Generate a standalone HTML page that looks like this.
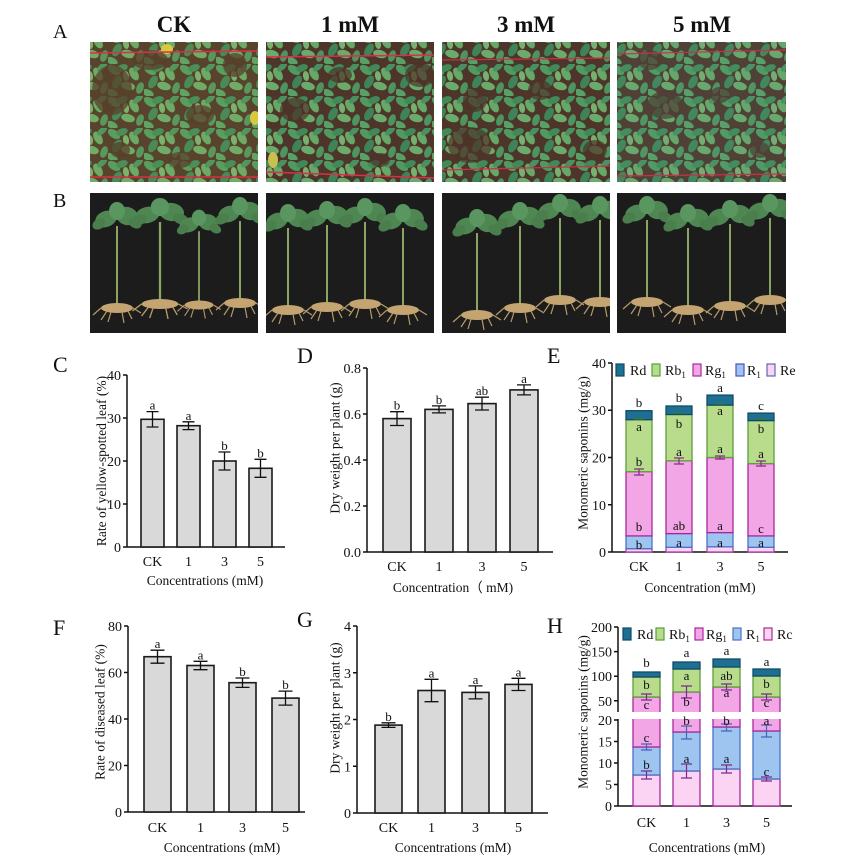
<!DOCTYPE html>
<html><head><meta charset="utf-8"><style>
html,body{margin:0;padding:0;background:#fff}
svg{display:block}
text{font-family:"Liberation Serif",serif;fill:#111}
.t{font-size:14px}
.l{font-size:13px}
.al{font-size:13.5px}
.pl{font-size:22px}
.tt{font-size:23px;font-weight:bold}
.ax{stroke:#111;stroke-width:1.5;fill:none}
.bar{fill:#d9d9d9;stroke:#1a1a1a;stroke-width:1.6}
.er{stroke:#111;stroke-width:1.3;fill:none}
</style></head><body>
<svg width="864" height="864" viewBox="0 0 864 864" xmlns="http://www.w3.org/2000/svg">
<defs>
<pattern id="leafy" width="36" height="32" patternUnits="userSpaceOnUse">
 <rect width="36" height="32" fill="#4e3529"/>
 <ellipse cx="6" cy="6" rx="7" ry="4" fill="#4f9a60" transform="rotate(35 6 6)"/>
 <ellipse cx="14" cy="4" rx="6" ry="3.5" fill="#3f8a58" transform="rotate(-20 14 4)"/>
 <ellipse cx="26" cy="10" rx="7" ry="4" fill="#66a868" transform="rotate(60 26 10)"/>
 <ellipse cx="30" cy="3" rx="6" ry="3" fill="#4a9060" transform="rotate(-40 30 3)"/>
 <ellipse cx="9" cy="18" rx="7" ry="4" fill="#3f8458" transform="rotate(-60 9 18)"/>
 <ellipse cx="20" cy="22" rx="7" ry="4" fill="#6aaa6a" transform="rotate(15 20 22)"/>
 <ellipse cx="32" cy="24" rx="6" ry="3.5" fill="#4e9460" transform="rotate(-70 32 24)"/>
 <ellipse cx="4" cy="29" rx="6" ry="3.5" fill="#58a065" transform="rotate(25 4 29)"/>
 <ellipse cx="18" cy="12" rx="5" ry="3" fill="#78b070" transform="rotate(80 18 12)"/>
</pattern>
<g id="pl">
 <g fill="#4e8752">
  <ellipse cx="-11" cy="1" rx="11" ry="8" transform="rotate(-20 -11 1)"/>
  <ellipse cx="10" cy="-2" rx="11" ry="9" transform="rotate(15 10 -2)"/>
  <ellipse cx="0" cy="-7" rx="8" ry="9" fill="#5a9660"/>
  <ellipse cx="-18" cy="6" rx="7" ry="5" transform="rotate(-30 -18 6)" fill="#4a7e4c"/>
  <ellipse cx="18" cy="5" rx="7" ry="5" transform="rotate(30 18 5)" fill="#4a7e4c"/>
 </g>
 <line x1="0" y1="8" x2="0" y2="86" stroke="#8aa462" stroke-width="2"/>
 <ellipse cx="0" cy="90" rx="16" ry="5" fill="#c4a572"/>
 <path d="M-16 90 l-8 7 M16 90 l8 5 M-6 94 l-3 10 M5 94 l2 11 M-10 93 l-6 9 M11 93 l4 8" stroke="#b89a66" stroke-width="1.2" fill="none"/>
</g>
<clipPath id="hu"><rect x="600" y="600" width="220" height="112"/></clipPath>
<clipPath id="hl"><rect x="600" y="719" width="220" height="100"/></clipPath>
<clipPath id="a1"><rect x="90" y="42" width="168" height="140"/></clipPath>
<clipPath id="a2"><rect x="266" y="42" width="168" height="140"/></clipPath>
<clipPath id="a3"><rect x="442" y="42" width="168" height="140"/></clipPath>
<clipPath id="a4"><rect x="617" y="42" width="169" height="140"/></clipPath>
<clipPath id="b1"><rect x="90" y="193" width="168" height="140"/></clipPath>
<clipPath id="b2"><rect x="266" y="193" width="168" height="140"/></clipPath>
<clipPath id="b3"><rect x="442" y="193" width="168" height="140"/></clipPath>
<clipPath id="b4"><rect x="617" y="193" width="169" height="140"/></clipPath>
</defs>

<!-- Titles -->
<text class="pl" x="53" y="38" style="font-size:20px">A</text>
<text class="pl" x="53" y="207" style="font-size:20px">B</text>
<text class="tt" x="174" y="32" text-anchor="middle">CK</text>
<text class="tt" x="350" y="32" text-anchor="middle">1 mM</text>
<text class="tt" x="526" y="32" text-anchor="middle">3 mM</text>
<text class="tt" x="702" y="32" text-anchor="middle">5 mM</text>

<!-- A photos -->
<g clip-path="url(#a1)">
 <rect x="90" y="42" width="168" height="140" fill="url(#leafy)"/>
 <g fill="#4e3328" opacity="0.75">
  <ellipse cx="112" cy="90" rx="20" ry="25"/><ellipse cx="150" cy="60" rx="18" ry="10"/>
  <ellipse cx="200" cy="115" rx="14" ry="10"/><ellipse cx="235" cy="65" rx="12" ry="12"/>
  <ellipse cx="120" cy="150" rx="10" ry="8"/><ellipse cx="180" cy="160" rx="12" ry="8"/>
 </g>
 <rect x="90" y="42" width="168" height="140" fill="#b0c050" opacity="0.1"/>
 <ellipse cx="167" cy="49" rx="6" ry="5" fill="#d8c840"/>
 <ellipse cx="255" cy="118" rx="5" ry="7" fill="#d8c840"/>
</g>
<g clip-path="url(#a2)">
 <rect x="266" y="42" width="168" height="140" fill="url(#leafy)"/>
 <g fill="#4e3328" opacity="0.7">
  <ellipse cx="295" cy="110" rx="15" ry="12"/><ellipse cx="340" cy="75" rx="12" ry="8"/>
  <ellipse cx="420" cy="75" rx="15" ry="12"/><ellipse cx="380" cy="160" rx="10" ry="7"/>
 </g>
 <ellipse cx="273" cy="160" rx="5" ry="8" fill="#c8c050"/>
</g>
<g clip-path="url(#a3)">
 <rect x="442" y="42" width="168" height="140" fill="url(#leafy)"/>
 <g fill="#4e3328" opacity="0.7">
  <ellipse cx="470" cy="145" rx="22" ry="18"/><ellipse cx="540" cy="90" rx="12" ry="10"/>
  <ellipse cx="475" cy="100" rx="12" ry="12"/><ellipse cx="595" cy="150" rx="12" ry="10"/>
 </g>
</g>
<g clip-path="url(#a4)">
 <rect x="617" y="42" width="169" height="140" fill="url(#leafy)"/>
 <g fill="#4e3328" opacity="0.7">
  <ellipse cx="665" cy="105" rx="18" ry="14"/><ellipse cx="650" cy="60" rx="12" ry="10"/>
  <ellipse cx="720" cy="95" rx="10" ry="8"/><ellipse cx="760" cy="150" rx="10" ry="8"/>
 </g>
 <rect x="617" y="42" width="169" height="140" fill="#5aa08a" opacity="0.12"/>
</g>
<line x1="90" y1="53" x2="258" y2="51" stroke="#d8304a" stroke-width="1.5"/>
<line x1="90" y1="177" x2="258" y2="177" stroke="#d8304a" stroke-width="1.5"/>
<line x1="266" y1="57" x2="434" y2="55" stroke="#d8304a" stroke-width="1.5"/>
<line x1="266" y1="172" x2="434" y2="178" stroke="#d8304a" stroke-width="1.5"/>
<line x1="442" y1="60" x2="610" y2="58" stroke="#c8304a" stroke-width="1.2"/>
<line x1="442" y1="170" x2="610" y2="166" stroke="#c8304a" stroke-width="1.2"/>
<line x1="617" y1="54" x2="786" y2="50" stroke="#c8304a" stroke-width="1.2"/>
<line x1="617" y1="176" x2="786" y2="174" stroke="#c8304a" stroke-width="1.2"/>

<!-- B photos -->
<g clip-path="url(#b1)">
 <rect x="90" y="193" width="168" height="140" fill="#1c1c1c"/>
 <use href="#pl" transform="translate(117,218)"/>
 <use href="#pl" transform="translate(160,214) scale(1.15,1)"/>
 <use href="#pl" transform="translate(199,224) scale(0.9)"/>
 <use href="#pl" transform="translate(240,213)"/>
</g>
<g clip-path="url(#b2)">
 <rect x="266" y="193" width="168" height="140" fill="#1c1c1c"/>
 <use href="#pl" transform="translate(288,220)"/>
 <use href="#pl" transform="translate(327,217)"/>
 <use href="#pl" transform="translate(365,214)"/>
 <use href="#pl" transform="translate(403,220)"/>
</g>
<g clip-path="url(#b3)">
 <rect x="442" y="193" width="168" height="140" fill="#1c1c1c"/>
 <use href="#pl" transform="translate(477,225)"/>
 <use href="#pl" transform="translate(520,218)"/>
 <use href="#pl" transform="translate(560,210)"/>
 <use href="#pl" transform="translate(600,212)"/>
</g>
<g clip-path="url(#b4)">
 <rect x="617" y="193" width="169" height="140" fill="#1c1c1c"/>
 <use href="#pl" transform="translate(647,212)"/>
 <use href="#pl" transform="translate(688,220)"/>
 <use href="#pl" transform="translate(730,216)"/>
 <use href="#pl" transform="translate(770,210)"/>
</g>

<!-- ================= Panel C ================= -->
<text class="pl" x="53" y="372">C</text>
<path class="ax" d="M127 375 V547 H285 M123 375 H127 M123 418 H127 M123 461 H127 M123 504 H127 M123 547 H127"/>
<g class="t" text-anchor="end">
<text x="121" y="380">40</text><text x="121" y="423">30</text><text x="121" y="466">20</text><text x="121" y="509">10</text><text x="121" y="552">0</text>
</g>
<rect class="bar" x="141" y="419.3" width="23" height="127.7"/>
<rect class="bar" x="177" y="425.7" width="23" height="121.3"/>
<rect class="bar" x="213" y="461" width="23" height="86"/>
<rect class="bar" x="249" y="468.3" width="23" height="78.7"/>
<path class="er" d="M152.5 411.6V427M146.5 411.6H158.5M146.5 427H158.5 M188.5 421.8V429.6M182.5 421.8H194.5M182.5 429.6H194.5 M224.5 452V470M218.5 452H230.5M218.5 470H230.5 M260.5 459.3V477.3M254.5 459.3H266.5M254.5 477.3H266.5"/>
<g class="l" text-anchor="middle">
<text x="152.5" y="409.6">a</text><text x="188.5" y="419.8">a</text><text x="224.5" y="450">b</text><text x="260.5" y="457.3">b</text>
</g>
<g class="t" text-anchor="middle">
<text x="152.5" y="566">CK</text><text x="188.5" y="566">1</text><text x="224.5" y="566">3</text><text x="260.5" y="566">5</text>
</g>
<text class="al" x="205" y="585" text-anchor="middle">Concentrations (mM)</text>
<text class="al" transform="translate(106,461) rotate(-90)" text-anchor="middle">Rate of yellow-spotted leaf (%)</text>

<!-- ================= Panel D ================= -->
<text class="pl" x="297" y="363">D</text>
<path class="ax" d="M367 368 V552 H553 M363 368 H367 M363 414 H367 M363 460 H367 M363 506 H367 M363 552 H367"/>
<g class="t" text-anchor="end">
<text x="361" y="373">0.8</text><text x="361" y="419">0.6</text><text x="361" y="465">0.4</text><text x="361" y="511">0.2</text><text x="361" y="557">0.0</text>
</g>
<rect class="bar" x="383" y="418.6" width="28" height="133.4"/>
<rect class="bar" x="425" y="409.4" width="28" height="142.6"/>
<rect class="bar" x="468" y="403.6" width="28" height="148.4"/>
<rect class="bar" x="510" y="389.9" width="28" height="162.1"/>
<path class="er" d="M397 411.7V425.5M390 411.7H404M390 425.5H404 M439 405.9V412.9M432 405.9H446M432 412.9H446 M482 397.2V410M475 397.2H489M475 410H489 M524 384.9V394.9M517 384.9H531M517 394.9H531"/>
<g class="l" text-anchor="middle">
<text x="397" y="409.7">b</text><text x="439" y="403.9">b</text><text x="482" y="395.2">ab</text><text x="524" y="382.9">a</text>
</g>
<g class="t" text-anchor="middle">
<text x="397" y="571">CK</text><text x="439" y="571">1</text><text x="482" y="571">3</text><text x="524" y="571">5</text>
</g>
<text class="al" x="453" y="592" text-anchor="middle">Concentration（ mM)</text>
<text class="al" transform="translate(339.5,448) rotate(-90)" text-anchor="middle">Dry weight per plant (g)</text>

<!-- ================= Panel E ================= -->
<text class="pl" x="547" y="363">E</text>
<path class="ax" d="M612 363 V552 H788 M608 363 H612 M608 410.25 H612 M608 457.5 H612 M608 504.75 H612 M608 552 H612"/>
<g class="t" text-anchor="end">
<text x="606" y="368">40</text><text x="606" y="415">30</text><text x="606" y="462.5">20</text><text x="606" y="510">10</text><text x="606" y="557">0</text>
</g>
<g class="t">
<rect x="616" y="364" width="8" height="12" fill="#1f6f93" stroke="#0e4a66" stroke-width="1.2"/><text x="630" y="375">Rd</text>
<rect x="652" y="364" width="8" height="12" fill="#b8dc8c" stroke="#5c9e3a" stroke-width="1.2"/><text x="665" y="375">Rb<tspan font-size="9" dy="3">1</tspan></text>
<rect x="693" y="364" width="8" height="12" fill="#f2a6e6" stroke="#a8289c" stroke-width="1.2"/><text x="705" y="375">Rg<tspan font-size="9" dy="3">1</tspan></text>
<rect x="736" y="364" width="8" height="12" fill="#9ec5f0" stroke="#4a52c0" stroke-width="1.2"/><text x="747" y="375">R<tspan font-size="9" dy="3">1</tspan></text>
<rect x="767" y="364" width="8" height="12" fill="#fbd3f3" stroke="#5a6ab0" stroke-width="1.2"/><text x="780" y="375">Re</text>
</g>
<g stroke-width="1.3">
<rect x="626" y="548.7" width="26" height="3.3" fill="#fbd3f3" stroke="#b040b0"/>
<rect x="626" y="535.9" width="26" height="12.8" fill="#9ec5f0" stroke="#4a72c4"/>
<rect x="626" y="471.7" width="26" height="64.2" fill="#f2a6e6" stroke="#a8289c"/>
<rect x="626" y="419.7" width="26" height="52" fill="#b8dc8c" stroke="#5c9e3a"/>
<rect x="626" y="410.7" width="26" height="9" fill="#1f6f93" stroke="#0e4a66"/>
<rect x="666" y="547.3" width="26" height="4.7" fill="#fbd3f3" stroke="#b040b0"/>
<rect x="666" y="533.6" width="26" height="13.7" fill="#9ec5f0" stroke="#4a72c4"/>
<rect x="666" y="460.8" width="26" height="72.8" fill="#f2a6e6" stroke="#a8289c"/>
<rect x="666" y="414.5" width="26" height="46.3" fill="#b8dc8c" stroke="#5c9e3a"/>
<rect x="666" y="406" width="26" height="8.5" fill="#1f6f93" stroke="#0e4a66"/>
<rect x="707" y="546.8" width="26" height="5.2" fill="#fbd3f3" stroke="#b040b0"/>
<rect x="707" y="532.6" width="26" height="14.2" fill="#9ec5f0" stroke="#4a72c4"/>
<rect x="707" y="457.5" width="26" height="75.1" fill="#f2a6e6" stroke="#a8289c"/>
<rect x="707" y="405.1" width="26" height="52.4" fill="#b8dc8c" stroke="#5c9e3a"/>
<rect x="707" y="395.1" width="26" height="10" fill="#1f6f93" stroke="#0e4a66"/>
<rect x="748" y="547.3" width="26" height="4.7" fill="#fbd3f3" stroke="#b040b0"/>
<rect x="748" y="535.9" width="26" height="11.4" fill="#9ec5f0" stroke="#4a72c4"/>
<rect x="748" y="463.6" width="26" height="72.3" fill="#f2a6e6" stroke="#a8289c"/>
<rect x="748" y="420.6" width="26" height="43" fill="#b8dc8c" stroke="#5c9e3a"/>
<rect x="748" y="413.1" width="26" height="7.5" fill="#1f6f93" stroke="#0e4a66"/>
</g>
<path stroke="#8a2a8a" stroke-width="1.2" fill="none" d="M639 469V475M634 469H644M634 475H644 M679 458V464M674 458H684M674 464H684 M720 456V459M715 456H725M715 459H725 M761 461V466M756 461H766M756 466H766"/>
<path stroke="#3a7a2a" stroke-width="1.2" fill="none" d="M634 419H644 M674 413H684 M715 404H725 M756 419H766"/>
<g class="l" text-anchor="middle">
<text x="639" y="407">b</text><text x="639" y="431">a</text><text x="639" y="466">b</text><text x="639" y="531">b</text><text x="639" y="549">b</text>
<text x="679" y="402">b</text><text x="679" y="428">b</text><text x="679" y="456">a</text><text x="679" y="530">ab</text><text x="679" y="547">a</text>
<text x="720" y="392">a</text><text x="720" y="415">a</text><text x="720" y="453">a</text><text x="720" y="530">a</text><text x="720" y="547">a</text>
<text x="761" y="410">c</text><text x="761" y="433">b</text><text x="761" y="458">a</text><text x="761" y="533">c</text><text x="761" y="547">a</text>
</g>
<g class="t" text-anchor="middle">
<text x="639" y="571">CK</text><text x="679" y="571">1</text><text x="720" y="571">3</text><text x="761" y="571">5</text>
</g>
<text class="al" x="700" y="592" text-anchor="middle">Concentration (mM)</text>
<text class="al" transform="translate(587.5,453) rotate(-90)" text-anchor="middle">Monomeric saponins (mg/g)</text>

<!-- ================= Panel F ================= -->
<text class="pl" x="53" y="635">F</text>
<path class="ax" d="M128 626 V812 H305 M124 626 H128 M124 672.5 H128 M124 719 H128 M124 765.5 H128 M124 812 H128"/>
<g class="t" text-anchor="end">
<text x="122" y="631">80</text><text x="122" y="677.5">60</text><text x="122" y="724">40</text><text x="122" y="770.5">20</text><text x="122" y="817">0</text>
</g>
<rect class="bar" x="144" y="656.7" width="27" height="155.3"/>
<rect class="bar" x="187" y="665.5" width="27" height="146.5"/>
<rect class="bar" x="229" y="682.7" width="27" height="129.3"/>
<rect class="bar" x="272" y="698.1" width="27" height="113.9"/>
<path class="er" d="M157.5 650.2V663.2M150.5 650.2H164.5M150.5 663.2H164.5 M200.5 661.3V669.7M193.5 661.3H207.5M193.5 669.7H207.5 M242.5 678V687.4M235.5 678H249.5M235.5 687.4H249.5 M285.5 691.1V705.1M278.5 691.1H292.5M278.5 705.1H292.5"/>
<g class="l" text-anchor="middle">
<text x="157.5" y="648.2">a</text><text x="200.5" y="659.3">a</text><text x="242.5" y="676">b</text><text x="285.5" y="689.1">b</text>
</g>
<g class="t" text-anchor="middle">
<text x="157.5" y="832">CK</text><text x="200.5" y="832">1</text><text x="242.5" y="832">3</text><text x="285.5" y="832">5</text>
</g>
<text class="al" x="222" y="852" text-anchor="middle">Concentrations (mM)</text>
<text class="al" transform="translate(104.5,712) rotate(-90)" text-anchor="middle">Rate of diseased leaf (%)</text>

<!-- ================= Panel G ================= -->
<text class="pl" x="297" y="627">G</text>
<path class="ax" d="M357 626 V813 H548 M353 626 H357 M353 672.75 H357 M353 719.5 H357 M353 766.25 H357 M353 813 H357"/>
<g class="t" text-anchor="end">
<text x="351" y="631">4</text><text x="351" y="677.75">3</text><text x="351" y="724.5">2</text><text x="351" y="771.25">1</text><text x="351" y="818">0</text>
</g>
<rect class="bar" x="375" y="725.1" width="27" height="87.9"/>
<rect class="bar" x="418" y="690.5" width="27" height="122.5"/>
<rect class="bar" x="462" y="692.4" width="27" height="120.6"/>
<rect class="bar" x="505" y="684.4" width="27" height="128.6"/>
<path class="er" d="M388.5 722.8V727.4M381.5 722.8H395.5M381.5 727.4H395.5 M431.5 679.3V701.7M424.5 679.3H438.5M424.5 701.7H438.5 M475.5 685.9V698.9M468.5 685.9H482.5M468.5 698.9H482.5 M518.5 678.3V690.5M511.5 678.3H525.5M511.5 690.5H525.5"/>
<g class="l" text-anchor="middle">
<text x="388.5" y="720.8">b</text><text x="431.5" y="677.3">a</text><text x="475.5" y="683.9">a</text><text x="518.5" y="676.3">a</text>
</g>
<g class="t" text-anchor="middle">
<text x="388.5" y="832">CK</text><text x="431.5" y="832">1</text><text x="475.5" y="832">3</text><text x="518.5" y="832">5</text>
</g>
<text class="al" x="453" y="852" text-anchor="middle">Concentrations (mM)</text>
<text class="al" transform="translate(339.5,708) rotate(-90)" text-anchor="middle">Dry weight per plant (g)</text>

<!-- ================= Panel H ================= -->
<text class="pl" x="547" y="633">H</text>
<path class="ax" d="M618 627 V712 M618 719 V806 H792 M614 627 H618 M614 651.6 H618 M614 676.2 H618 M614 700.8 H618 M614 720 H618 M614 741.5 H618 M614 763 H618 M614 784.5 H618 M614 806 H618"/>
<g class="t" text-anchor="end">
<text x="612" y="632">200</text><text x="612" y="656.6">150</text><text x="612" y="681.2">100</text><text x="612" y="705.8">50</text>
<text x="612" y="725">20</text><text x="612" y="746.5">15</text><text x="612" y="768">10</text><text x="612" y="789.5">5</text><text x="612" y="811">0</text>
</g>
<g class="t">
<rect x="623" y="628" width="8" height="12" fill="#1f6f93" stroke="#0e4a66" stroke-width="1.2"/><text x="637" y="639">Rd</text>
<rect x="656" y="628" width="8" height="12" fill="#b8dc8c" stroke="#5c9e3a" stroke-width="1.2"/><text x="669" y="639">Rb<tspan font-size="9" dy="3">1</tspan></text>
<rect x="695" y="628" width="8" height="12" fill="#f2a6e6" stroke="#a8289c" stroke-width="1.2"/><text x="706" y="639">Rg<tspan font-size="9" dy="3">1</tspan></text>
<rect x="733" y="628" width="8" height="12" fill="#9ec5f0" stroke="#4a72c4" stroke-width="1.2"/><text x="746" y="639">R<tspan font-size="9" dy="3">1</tspan></text>
<rect x="764" y="628" width="8" height="12" fill="#fbd3f3" stroke="#a8289c" stroke-width="1.2"/><text x="777" y="639">Rc</text>
</g>
<g clip-path="url(#hu)" stroke-width="1.3">
<rect x="633" y="697" width="27" height="25" fill="#f2a6e6" stroke="#a8289c"/>
<rect x="633" y="677" width="27" height="20" fill="#b8dc8c" stroke="#5c9e3a"/>
<rect x="633" y="672" width="27" height="5" fill="#1f6f93" stroke="#0e4a66"/>
<rect x="673" y="692" width="27" height="30" fill="#f2a6e6" stroke="#a8289c"/>
<rect x="673" y="669" width="27" height="23" fill="#b8dc8c" stroke="#5c9e3a"/>
<rect x="673" y="662" width="27" height="7" fill="#1f6f93" stroke="#0e4a66"/>
<rect x="713" y="687" width="27" height="35" fill="#f2a6e6" stroke="#a8289c"/>
<rect x="713" y="667" width="27" height="20" fill="#b8dc8c" stroke="#5c9e3a"/>
<rect x="713" y="659" width="27" height="8" fill="#1f6f93" stroke="#0e4a66"/>
<rect x="753" y="697" width="27" height="25" fill="#f2a6e6" stroke="#a8289c"/>
<rect x="753" y="676" width="27" height="21" fill="#b8dc8c" stroke="#5c9e3a"/>
<rect x="753" y="669" width="27" height="7" fill="#1f6f93" stroke="#0e4a66"/>
</g>
<g clip-path="url(#hl)" stroke-width="1.3">
<rect x="633" y="775" width="27" height="31" fill="#fbd3f3" stroke="#a8289c"/>
<rect x="633" y="747" width="27" height="28" fill="#9ec5f0" stroke="#4a72c4"/>
<rect x="633" y="705" width="27" height="42" fill="#f2a6e6" stroke="#a8289c"/>
<rect x="673" y="771" width="27" height="35" fill="#fbd3f3" stroke="#a8289c"/>
<rect x="673" y="732" width="27" height="39" fill="#9ec5f0" stroke="#4a72c4"/>
<rect x="673" y="705" width="27" height="27" fill="#f2a6e6" stroke="#a8289c"/>
<rect x="713" y="769" width="27" height="37" fill="#fbd3f3" stroke="#a8289c"/>
<rect x="713" y="727" width="27" height="42" fill="#9ec5f0" stroke="#4a72c4"/>
<rect x="713" y="705" width="27" height="22" fill="#f2a6e6" stroke="#a8289c"/>
<rect x="753" y="779" width="27" height="27" fill="#fbd3f3" stroke="#a8289c"/>
<rect x="753" y="731" width="27" height="48" fill="#9ec5f0" stroke="#4a72c4"/>
<rect x="753" y="705" width="27" height="26" fill="#f2a6e6" stroke="#a8289c"/>
</g>
<path stroke="#7a2a8a" stroke-width="1.2" fill="none" d="M646.5 694V700M641 694H652M641 700H652 M686.5 686V698M681 686H692M681 698H692 M726.5 684V690M721 684H732M721 690H732 M766.5 694V700M761 694H772M761 700H772
M646.5 771V779M641 771H652M641 779H652 M686.5 764V778M681 764H692M681 778H692 M726.5 765V773M721 765H732M721 773H732 M766.5 777V781M761 777H772M761 781H772"/>
<path stroke="#4a62b4" stroke-width="1.2" fill="none" d="M646.5 744V750M641 744H652M641 750H652 M686.5 726V739M681 726H692M681 739H692 M726.5 724V731M721 724H732M721 731H732 M766.5 725V737M761 725H772M761 737H772"/>
<g class="l" text-anchor="middle">
<text x="646.5" y="667">b</text><text x="686.5" y="657">a</text><text x="726.5" y="655">a</text><text x="766.5" y="666">a</text>
<text x="646.5" y="689">b</text><text x="686.5" y="680">a</text><text x="726.5" y="680">ab</text><text x="766.5" y="688">b</text>
<text x="646.5" y="709">c</text><text x="686.5" y="706">b</text><text x="726.5" y="697">a</text><text x="766.5" y="707">c</text>
<text x="686.5" y="725">b</text><text x="726.5" y="725">b</text><text x="766.5" y="725">a</text>
<text x="646.5" y="742">c</text>
<text x="646.5" y="769">b</text><text x="686.5" y="763">a</text><text x="726.5" y="763">a</text><text x="766.5" y="776">c</text>
</g>
<g class="t" text-anchor="middle">
<text x="646.5" y="827">CK</text><text x="686.5" y="827">1</text><text x="726.5" y="827">3</text><text x="766.5" y="827">5</text>
</g>
<text class="al" x="707" y="852" text-anchor="middle">Concentrations (mM)</text>
<text class="al" transform="translate(587.5,712) rotate(-90)" text-anchor="middle">Monomeric saponins (mg/g)</text>
</svg>
</body></html>
